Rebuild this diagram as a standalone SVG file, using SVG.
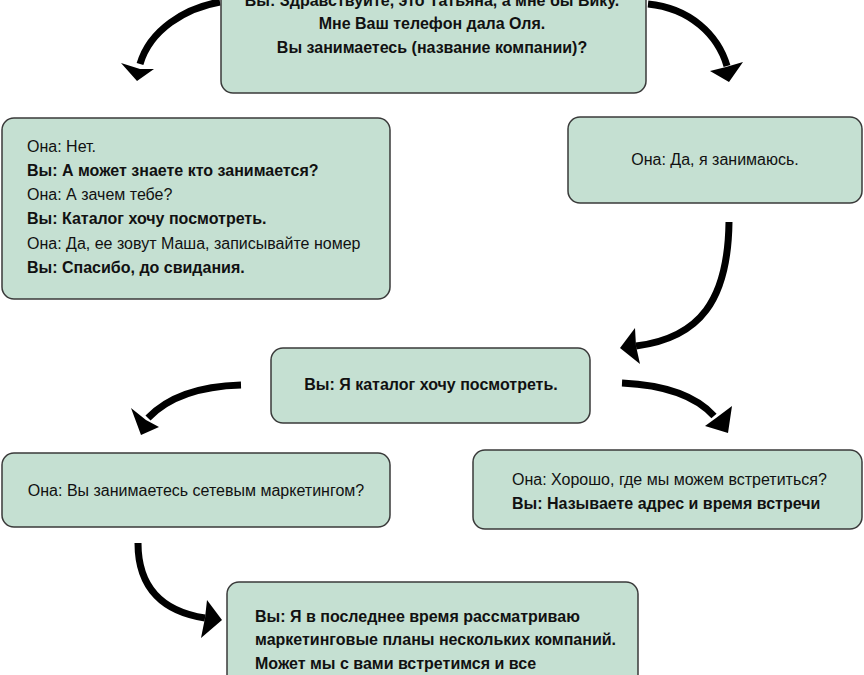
<svg xmlns="http://www.w3.org/2000/svg" width="864" height="675" viewBox="0 0 864 675">
<style>
.box{fill:#c5e0d2;stroke:#3a3a3a;stroke-width:1.5}
.t{font-family:"Liberation Sans",Arial,sans-serif;font-size:16px;fill:#111}
.b{font-weight:bold}
.c{text-anchor:middle}
.arr{fill:none;stroke:#000;stroke-width:7}
.hd{fill:#000}
</style>
<rect width="864" height="675" fill="#fff"/>
<g id="connectors">
<path class="arr" d="M220,2 C185,8 150,30 140,64"/>
<polygon class="hd" points="121,63 140,69 154,69 137,81"/>
<path class="arr" d="M648,4 C690,8 718,35 727,66"/>
<polygon class="hd" points="710,71 726,67 743,62 729,82"/>
<path class="arr" d="M729,222 C728,300 700,338 636,346"/>
<polygon class="hd" points="635,328 636,346 640,364 620,348"/>
<path class="arr" d="M241,385 C205,386 170,395 148,418"/>
<polygon class="hd" points="131,408 146,420 159,427 141,435"/>
<path class="arr" d="M622,383 C665,385 695,395 714,416"/>
<polygon class="hd" points="732,406 716,418 705,426 728,433"/>
<path class="arr" d="M138,543 C138,590 165,612 205,618"/>
<polygon class="hd" points="207,600 205,618 201,638 222,620"/>
</g>
<g id="n-top">
<rect class="box" x="221" y="-20" width="425" height="113" rx="12"/>
<text class="t b c" x="432" y="6">Вы: Здравствуйте, это Татьяна, а мне бы Вику.</text>
<text class="t b c" x="432" y="29">Мне Ваш телефон дала Оля.</text>
<text class="t b c" x="432" y="53">Вы занимаетесь (название компании)?</text>
</g>
<g id="n-no">
<rect class="box" x="2" y="118" width="388" height="181" rx="12"/>
<text class="t" x="27" y="152">Она: Нет.</text>
<text class="t b" x="27" y="176">Вы: А может знаете кто занимается?</text>
<text class="t" x="27" y="200">Она: А зачем тебе?</text>
<text class="t b" x="27" y="224">Вы: Каталог хочу посмотреть.</text>
<text class="t" x="27" y="249">Она: Да, ее зовут Маша, записывайте номер</text>
<text class="t b" x="27" y="273">Вы: Спасибо, до свидания.</text>
</g>
<g id="n-yes">
<rect class="box" x="568" y="117" width="294" height="86" rx="12"/>
<text class="t c" x="715" y="165">Она: Да, я занимаюсь.</text>
</g>
<g id="n-catalog">
<rect class="box" x="271" y="348" width="319" height="75" rx="12"/>
<text class="t b c" x="431" y="390">Вы: Я каталог хочу посмотреть.</text>
</g>
<g id="n-network">
<rect class="box" x="2" y="453" width="388" height="74" rx="12"/>
<text class="t c" x="196" y="496">Она: Вы занимаетесь сетевым маркетингом?</text>
</g>
<g id="n-meet">
<rect class="box" x="473" y="450" width="389" height="79" rx="12"/>
<text class="t" x="512" y="485">Она: Хорошо, где мы можем встретиться?</text>
<text class="t b" x="512" y="509">Вы: Называете адрес и время встречи</text>
</g>
<g id="n-plans">
<rect class="box" x="227" y="582" width="411" height="120" rx="12"/>
<text class="t b" x="255" y="622">Вы: Я в последнее время рассматриваю</text>
<text class="t b" x="255" y="645">маркетинговые планы нескольких компаний.</text>
<text class="t b" x="255" y="669">Может мы с вами встретимся и все</text>
</g>
</svg>
